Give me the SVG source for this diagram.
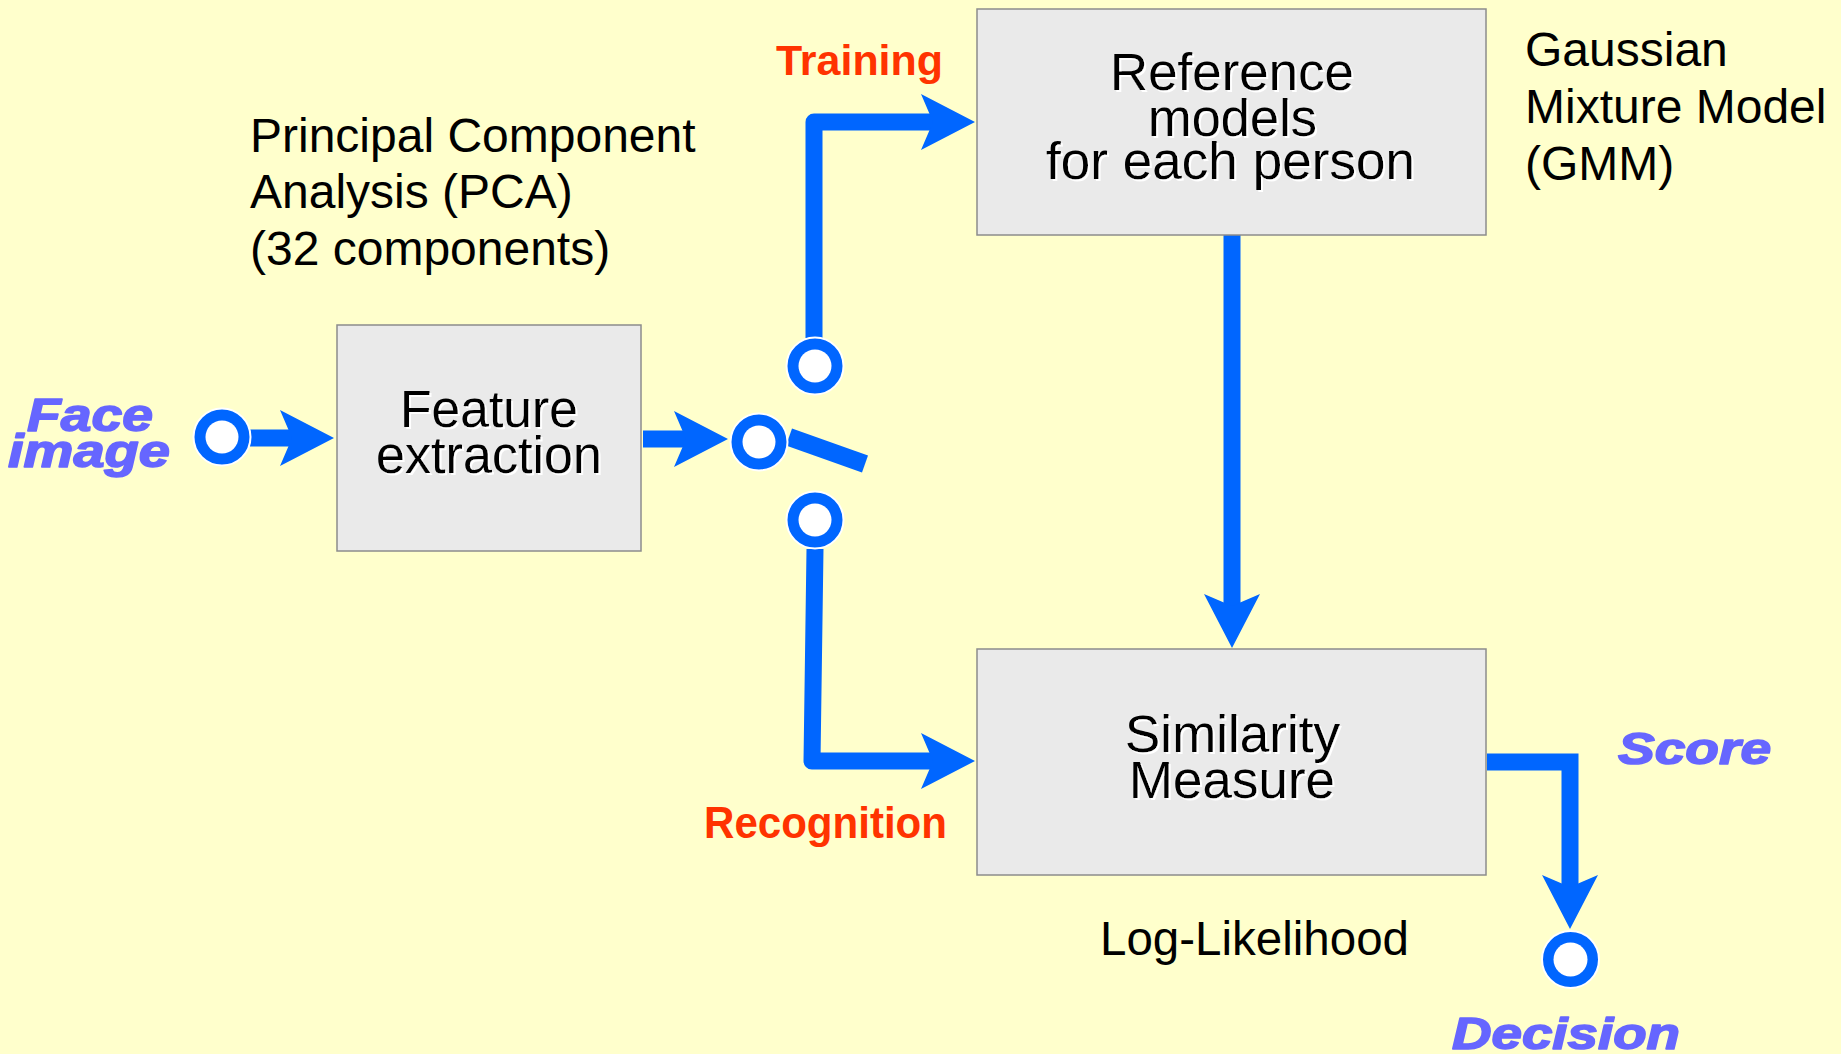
<svg xmlns="http://www.w3.org/2000/svg" width="1841" height="1054" viewBox="0 0 1841 1054">
<style>
.box{fill:#EAEAEA;stroke:#8C8C8C;stroke-width:1.5}
.bt{font-family:"Liberation Sans",Arial,sans-serif;font-size:51px;fill:#000;filter:url(#sh)}
.note{font-family:"Liberation Sans",Arial,sans-serif;font-size:48px;fill:#000}
.mode{font-family:"Liberation Sans",Arial,sans-serif;font-weight:bold;fill:#FF3300}
.io{font-family:"Liberation Sans",Arial,sans-serif;font-weight:bold;font-style:italic;fill:#6666FF;stroke:#6666FF;stroke-width:1.6;stroke-linejoin:round}
.wire{fill:none;stroke:#0066FF;stroke-width:17}
.ring{fill:#0066FF;stroke:#FFFFFF;stroke-width:2}
.hole{fill:#FFFFFF}
</style>
<defs>
<filter id="sh" x="-10%" y="-20%" width="120%" height="150%">
<feDropShadow dx="2" dy="2" stdDeviation="0.4" flood-color="#FFFFFF" flood-opacity="1"/>
</filter>
<marker id="head" markerUnits="userSpaceOnUse" viewBox="0 0 54 56" markerWidth="54" markerHeight="56" refX="12" refY="28" orient="auto">
<path d="M0,0 L54,28 L0,56 L12,28 Z" fill="#0066FF"/>
</marker>
</defs>
<rect x="0" y="0" width="1841" height="1054" fill="#FFFFCC"/>

<g id="connectors">
<path class="wire" d="M250,438 H292" marker-end="url(#head)"/>
<path class="wire" d="M643,439 H686" marker-end="url(#head)"/>
<path class="wire" d="M814,338 V122 H933" stroke-linejoin="round" marker-end="url(#head)"/>
<path class="wire" d="M815,549 L812,761 H933" stroke-linejoin="round" marker-end="url(#head)"/>
<path class="wire" d="M1232,235 V606" marker-end="url(#head)"/>
<path class="wire" d="M1487,762 H1570 V887" stroke-linejoin="miter" marker-end="url(#head)"/>
<line id="switch-lever" x1="789" y1="437" x2="865" y2="464" stroke="#0066FF" stroke-width="18"/>
</g>

<g id="face-image">
<text class="io" font-size="47" x="27" y="431" textLength="126" lengthAdjust="spacingAndGlyphs">Face</text>
<text class="io" font-size="47" x="8" y="467" textLength="162" lengthAdjust="spacingAndGlyphs">image</text>
</g>
<g id="input-port">
<circle class="ring" cx="222" cy="437" r="28.5"/>
<circle class="hole" cx="222" cy="437" r="16.5"/>
</g>

<g id="feature-extraction">
<rect class="box" x="337" y="325" width="304" height="226"/>
<text class="bt" x="400" y="427" textLength="178" lengthAdjust="spacingAndGlyphs">Feature</text>
<text class="bt" x="376" y="473" textLength="226" lengthAdjust="spacingAndGlyphs">extraction</text>
</g>

<g id="pca-note">
<text class="note" x="250" y="152">Principal Component</text>
<text class="note" x="250" y="208">Analysis (PCA)</text>
<text class="note" x="250" y="265">(32 components)</text>
</g>

<g id="switch-common">
<circle class="ring" cx="759" cy="442" r="28.5"/>
<circle class="hole" cx="759" cy="442" r="16.5"/>
</g>
<g id="training-contact">
<circle class="ring" cx="815" cy="366" r="28.5"/>
<circle class="hole" cx="815" cy="366" r="16.5"/>
</g>
<g id="recognition-contact">
<circle class="ring" cx="815" cy="520" r="28.5"/>
<circle class="hole" cx="815" cy="520" r="16.5"/>
</g>

<g id="training-label">
<text class="mode" font-size="43" x="776" y="75" textLength="167" lengthAdjust="spacingAndGlyphs">Training</text>
</g>
<g id="recognition-label">
<text class="mode" font-size="44" x="704" y="838" textLength="243" lengthAdjust="spacingAndGlyphs">Recognition</text>
</g>

<g id="reference-models">
<rect class="box" x="977" y="9" width="509" height="226"/>
<text class="bt" x="1110" y="90" textLength="244" lengthAdjust="spacingAndGlyphs">Reference</text>
<text class="bt" x="1148" y="135.5" textLength="169" lengthAdjust="spacingAndGlyphs">models</text>
<text class="bt" x="1046" y="179" textLength="369" lengthAdjust="spacingAndGlyphs">for each person</text>
</g>

<g id="gmm-note">
<text class="note" x="1525" y="66">Gaussian</text>
<text class="note" x="1525" y="123">Mixture Model</text>
<text class="note" x="1525" y="179.5">(GMM)</text>
</g>

<g id="similarity-measure">
<rect class="box" x="977" y="649" width="509" height="226"/>
<text class="bt" x="1125" y="752" textLength="215" lengthAdjust="spacingAndGlyphs">Similarity</text>
<text class="bt" x="1129" y="798" textLength="206" lengthAdjust="spacingAndGlyphs">Measure</text>
</g>

<g id="log-likelihood">
<text class="note" font-size="47" x="1100" y="955" textLength="309" lengthAdjust="spacingAndGlyphs">Log-Likelihood</text>
</g>

<g id="score-label">
<text class="io" font-size="44" x="1618" y="764" textLength="153" lengthAdjust="spacingAndGlyphs">Score</text>
</g>

<g id="decision-port">
<circle class="ring" cx="1570.5" cy="959.5" r="28.5"/>
<circle class="hole" cx="1570.5" cy="959.5" r="17"/>
</g>
<g id="decision-label">
<text class="io" font-size="44" x="1452" y="1049" textLength="228" lengthAdjust="spacingAndGlyphs">Decision</text>
</g>
</svg>
